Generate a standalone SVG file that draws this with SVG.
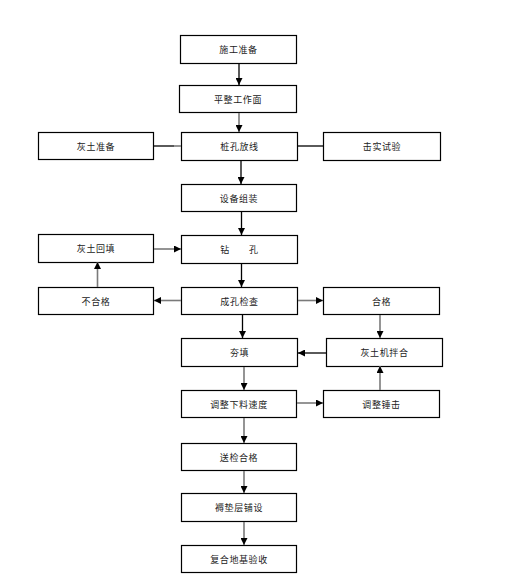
<svg xmlns="http://www.w3.org/2000/svg" width="512" height="579" viewBox="0 0 512 579">
<style>
.box{fill:#fff;stroke:#000;stroke-width:1.2}
.t{font-family:"Noto Sans CJK SC","Noto Sans CJK JP",sans-serif;font-size:9px;fill:#222;text-anchor:middle;dominant-baseline:central;letter-spacing:0.6px}
.c{stroke:#000;stroke-width:1.3;fill:none}
.g{stroke:#7a7a7a;stroke-width:1.6;fill:none}
</style>
<defs>
<marker id="a" viewBox="0 0 10 10" refX="10" refY="5" markerWidth="7" markerHeight="7" markerUnits="userSpaceOnUse" orient="auto">
<path d="M0,0L10,5L0,10z" fill="#000"/>
</marker>
</defs>
<rect width="512" height="579" fill="#fff"/>
<g id="n1"><rect class="box" x="180.5" y="35.5" width="116" height="28"/><text class="t" x="238.5" y="49.5">施工准备</text></g>
<g id="n2"><rect class="box" x="179.5" y="85.5" width="117" height="27"/><text class="t" x="238" y="99">平整工作面</text></g>
<g id="n3"><rect class="box" x="38.5" y="132.5" width="115" height="27"/><text class="t" x="96" y="146">灰土准备</text></g>
<g id="n4"><rect class="box" x="181.5" y="132.5" width="116" height="28"/><text class="t" x="239.5" y="146.5">桩孔放线</text></g>
<g id="n5"><rect class="box" x="323.5" y="132.5" width="117" height="28"/><text class="t" x="382" y="146.5">击实试验</text></g>
<g id="n6"><rect class="box" x="181.5" y="184.5" width="115" height="27"/><text class="t" x="239" y="198">设备组装</text></g>
<g id="n7"><rect class="box" x="38.5" y="234.5" width="115" height="28"/><text class="t" x="96" y="248.5">灰土回填</text></g>
<g id="n8"><rect class="box" x="181.5" y="235.5" width="116" height="28"/><text class="t" x="239.5" y="249.5">钻　　孔</text></g>
<g id="n9"><rect class="box" x="38.5" y="287.5" width="115" height="27"/><text class="t" x="96" y="301">不合格</text></g>
<g id="n10"><rect class="box" x="181.5" y="287.5" width="116" height="27"/><text class="t" x="239.5" y="301">成孔检查</text></g>
<g id="n11"><rect class="box" x="323.5" y="287.5" width="116" height="27"/><text class="t" x="381.5" y="301">合格</text></g>
<g id="n12"><rect class="box" x="181.5" y="338.5" width="116" height="28"/><text class="t" x="239.5" y="352.5">夯填</text></g>
<g id="n13"><rect class="box" x="326.5" y="338.5" width="116" height="28"/><text class="t" x="384.5" y="352.5">灰土机拌合</text></g>
<g id="n14"><rect class="box" x="181.5" y="390.5" width="115" height="27"/><text class="t" x="239" y="404">调整下料速度</text></g>
<g id="n15"><rect class="box" x="323.5" y="390.5" width="116" height="27"/><text class="t" x="381.5" y="404">调整锤击</text></g>
<g id="n16"><rect class="box" x="181.5" y="443.5" width="115" height="27"/><text class="t" x="239" y="457">送检合格</text></g>
<g id="n17"><rect class="box" x="181.5" y="493.5" width="115" height="28"/><text class="t" x="239" y="507.5">褥垫层铺设</text></g>
<g id="n18"><rect class="box" x="181.5" y="545.5" width="115" height="27"/><text class="t" x="239" y="559">复合地基验收</text></g>
<g id="connectors">
<path class="c" d="M239,64V85" marker-end="url(#a)"/>
<path class="g" d="M239,113V132" marker-end="url(#a)"/>
<path class="c" d="M154,146H174"/><path class="g" d="M174,146H181"/>
<path class="c" d="M298,146H323"/>
<path class="c" d="M241,161V184" marker-end="url(#a)"/>
<path class="c" d="M241.5,212V235" marker-end="url(#a)"/>
<path class="g" d="M154,249H181" marker-end="url(#a)"/>
<path class="g" d="M97.5,287V262" marker-end="url(#a)"/>
<path class="c" d="M241.5,264V287" marker-end="url(#a)"/>
<path class="g" d="M181,300.5H154" marker-end="url(#a)"/>
<path class="g" d="M298,300.5H323" marker-end="url(#a)"/>
<path class="c" d="M242.5,315V338" marker-end="url(#a)"/>
<path class="g" d="M380,315V338" marker-end="url(#a)"/>
<path class="c" d="M326,353H298" marker-end="url(#a)"/>
<path class="g" d="M244,367V390" marker-end="url(#a)"/>
<path class="g" d="M297,403H323" marker-end="url(#a)"/>
<path class="g" d="M380,390V366" marker-end="url(#a)"/>
<path class="g" d="M244,418V443" marker-end="url(#a)"/>
<path class="g" d="M244,471V493" marker-end="url(#a)"/>
<path class="g" d="M244,522V545" marker-end="url(#a)"/>
</g>
</svg>
